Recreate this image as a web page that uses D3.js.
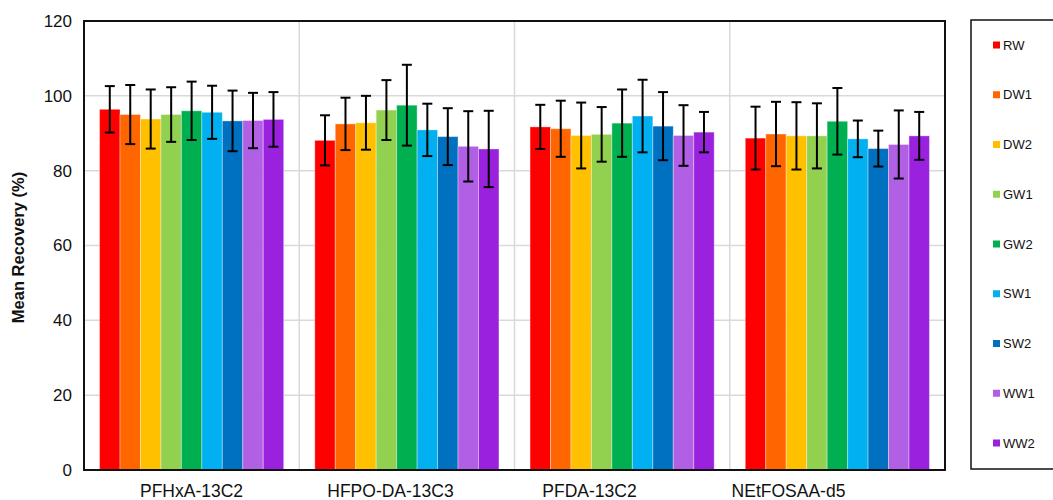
<!DOCTYPE html>
<html lang="en">
<head>
  <meta charset="UTF-8" />
  <title>Mean Recovery</title>
  <script src="https://d3js.org/d3.v7.min.js"></script>
  <style>
    body {
      margin: 0;
      background: #fff;
      font-family: 'Liberation Sans', Arial, Helvetica, sans-serif;
    }
  </style>
</head>
<body>
  <svg id="chart" width="1053" height="500"></svg>
  <script>
    // data
    const groups = ["PFHxA-13C2", "HFPO-DA-13C3", "PFDA-13C2", "NEtFOSAA-d5"];
    const series = ["RW", "DW1", "DW2", "GW1", "GW2", "SW1", "SW2", "WW1", "WW2"];
    const colors = ["#FF0000", "#FF6600", "#FFC000", "#92D050", "#00B050", "#00B0F0", "#0070C0", "#B160E5", "#9A22DE"];
    // mean per group, one value per series
    const means = [
      [96.4, 95.0, 93.8, 95.0, 96.0, 95.6, 93.3, 93.4, 93.7],
      [88.1, 92.5, 92.8, 96.2, 97.5, 90.9, 89.1, 86.5, 85.8],
      [91.7, 91.2, 89.4, 89.7, 92.7, 94.6, 91.9, 89.4, 90.3],
      [88.7, 89.8, 89.3, 89.3, 93.2, 88.5, 85.9, 87.0, 89.3]
    ];
    // standard deviation for the error bars
    const sds = [
      [6.2, 7.9, 7.9, 7.3, 7.8, 7.1, 8.1, 7.4, 7.3],
      [6.7, 7.0, 7.2, 8.0, 10.8, 7.0, 7.6, 9.4, 10.2],
      [5.9, 7.5, 8.8, 7.3, 9.0, 9.7, 9.1, 8.1, 5.4],
      [8.4, 8.6, 9.0, 8.7, 8.9, 4.9, 4.8, 9.1, 6.4]
    ];
    const yTicks = [0, 20, 40, 60, 80, 100, 120];

    const svg = d3.select("#chart");
    const plot = { left: 84, right: 945, top: 21, bottom: 470 };

    const y = d3.scaleLinear().domain([0, 120]).range([plot.bottom, plot.top]);
    const x0 = d3.scaleBand().domain(groups).range([plot.left, plot.right]);
    const x1 = d3.scaleBand().domain(series).range([0, x0.bandwidth()])
      .paddingInner(0).paddingOuter(0.76);
    // category labels sit on a slightly narrower spacing in the original
    const xLabel = d3.scaleBand().domain(groups).range([92, 888]);

    // grid
    svg.append("g")
      .selectAll("line")
      .data(yTicks.filter(t => t > 0 && t < 120))
      .join("line")
      .attr("x1", plot.left).attr("x2", plot.right)
      .attr("y1", d => y(d)).attr("y2", d => y(d))
      .attr("stroke", "#d9d9d9").attr("stroke-width", 1.5);

    svg.append("g")
      .selectAll("line")
      .data(groups.slice(1))
      .join("line")
      .attr("x1", d => x0(d)).attr("x2", d => x0(d))
      .attr("y1", plot.top).attr("y2", plot.bottom)
      .attr("stroke", "#d9d9d9").attr("stroke-width", 1.5);

    // bars
    const rows = [];
    groups.forEach((g, gi) => {
      series.forEach((s, si) => {
        rows.push({ g, s, si, mean: means[gi][si], sd: sds[gi][si] });
      });
    });

    svg.append("g")
      .selectAll("rect")
      .data(rows)
      .join("rect")
      .attr("x", d => x0(d.g) + x1(d.s))
      .attr("y", d => y(d.mean))
      .attr("width", x1.bandwidth())
      .attr("height", d => y(0) - y(d.mean))
      .attr("fill", d => colors[d.si])
      .attr("stroke", "rgba(255,255,255,0.35)")
      .attr("stroke-width", 1);

    // error bars
    const eb = svg.append("g").attr("stroke", "#000").attr("stroke-width", 2);
    const cap = 5;
    rows.forEach(d => {
      const cx = x0(d.g) + x1(d.s) + x1.bandwidth() / 2;
      const hi = y(d.mean + d.sd), lo = y(d.mean - d.sd);
      eb.append("line").attr("x1", cx).attr("x2", cx).attr("y1", hi).attr("y2", lo);
      eb.append("line").attr("x1", cx - cap).attr("x2", cx + cap).attr("y1", hi).attr("y2", hi);
      eb.append("line").attr("x1", cx - cap).attr("x2", cx + cap).attr("y1", lo).attr("y2", lo);
    });

    // frame
    svg.append("rect")
      .attr("x", plot.left).attr("y", plot.top)
      .attr("width", plot.right - plot.left)
      .attr("height", plot.bottom - plot.top)
      .attr("fill", "none").attr("stroke", "#111").attr("stroke-width", 2);

    // y tick labels
    svg.append("g")
      .selectAll("text")
      .data(yTicks)
      .join("text")
      .attr("x", 72)
      .attr("y", d => y(d))
      .attr("dy", "0.35em")
      .attr("text-anchor", "end")
      .attr("font-size", "17px")
      .attr("fill", "#111")
      .text(d => d);

    svg.append("text")
      .attr("transform", `translate(24,${(plot.top + plot.bottom) / 2 + 2}) rotate(-90)`)
      .attr("text-anchor", "middle")
      .attr("font-size", "16.5px")
      .attr("font-weight", "bold")
      .attr("fill", "#111")
      .text("Mean Recovery (%)");

    // x category labels
    svg.append("g")
      .selectAll("text")
      .data(groups)
      .join("text")
      .attr("x", d => xLabel(d) + xLabel.bandwidth() / 2)
      .attr("y", 497)
      .attr("text-anchor", "middle")
      .attr("font-size", "17.5px")
      .attr("fill", "#111")
      .text(d => d);

    // legend
    const lg = svg.append("g");
    lg.append("rect")
      .attr("x", 971).attr("y", 20)
      .attr("width", 100).attr("height", 449)
      .attr("fill", "#fff").attr("stroke", "#111").attr("stroke-width", 1.5);

    const ly = d3.scalePoint().domain(series).range([45, 443]);
    const item = lg.selectAll("g.item")
      .data(series)
      .join("g")
      .attr("class", "item")
      .attr("transform", d => `translate(993,${ly(d)})`);
    item.append("rect")
      .attr("x", 0).attr("y", -3.5)
      .attr("width", 7).attr("height", 7)
      .attr("fill", (d, i) => colors[i]);
    item.append("text")
      .attr("x", 10).attr("y", 0)
      .attr("dy", "0.36em")
      .attr("font-size", "13px")
      .attr("fill", "#111")
      .text(d => d);
  </script>
</body>
</html>
